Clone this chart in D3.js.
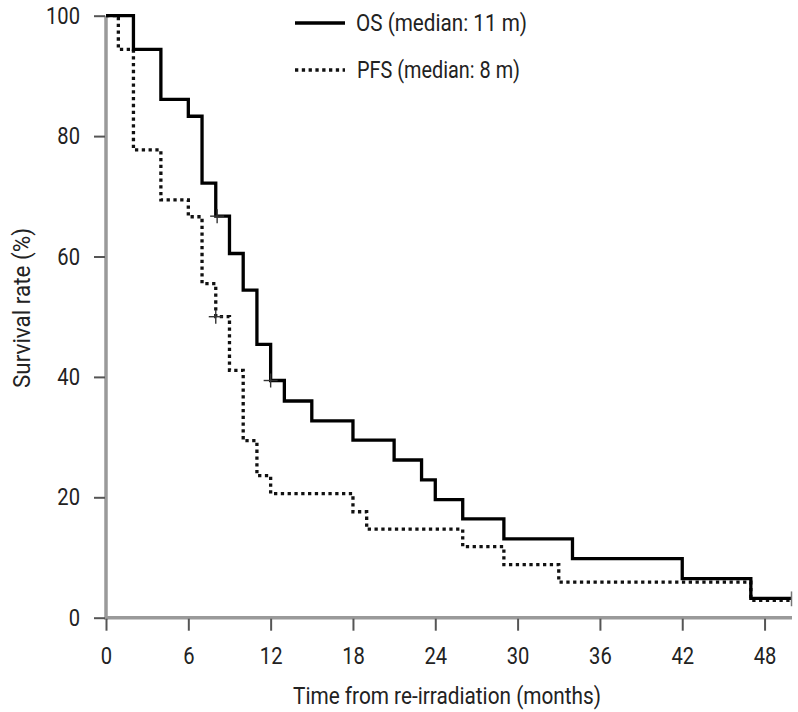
<!DOCTYPE html>
<html>
<head>
<meta charset="utf-8">
<script src="https://cdn.jsdelivr.net/npm/d3@7"></script>
<style>
  html, body { margin: 0; padding: 0; background: #fff; }
  svg { display: block; }
  text { font-family: "Roboto", "Liberation Sans Narrow", "DejaVu Sans Condensed", sans-serif; fill: #222; }
</style>
</head>
<body>
<svg id="chart" width="798" height="712"></svg>
<script>
// ---- data ----
const osTimes  = [0, 2, 4, 6, 7, 8, 9, 10, 11, 12, 13, 15, 18, 21, 23, 24, 26, 29, 34, 42, 47, 50];
const osValues = [100, 94.4, 86.1, 83.3, 72.2, 66.7, 60.5, 54.4, 45.4, 39.4, 36.0, 32.7, 29.5, 26.2, 22.9, 19.6, 16.4, 13.1, 9.8, 6.5, 3.2, 3.2];
const pfsTimes  = [0, 0.9, 2, 4, 6, 7, 8, 9, 10, 11, 12, 18, 19, 26, 29, 33, 47, 50];
const pfsValues = [100, 94.4, 77.7, 69.4, 66.6, 55.5, 50.0, 41.1, 29.4, 23.6, 20.6, 17.6, 14.7, 11.8, 8.8, 5.9, 2.9, 2.9];
const osCensorT = [8.1, 12];
const osCensorV = [66.7, 39.4];
const pfsCensorT = [8];
const pfsCensorV = [50];
const xTicks = [0, 6, 12, 18, 24, 30, 36, 42, 48];
const yTicks = [0, 20, 40, 60, 80, 100];
const legendLabels = ["OS (median: 11 m)", "PFS (median: 8 m)"];
const xTitle = "Time from re-irradiation (months)";
const yTitle = "Survival rate (%)";

const svg = d3.select("#chart");
const x = d3.scaleLinear().domain([0, 50]).range([106, 792]);
const y = d3.scaleLinear().domain([0, 100]).range([617.7, 15.7]);

const axisColor = "#9a9a9a";
const tickColor = "#555";
const fs = 24;
const squeeze = 0.84;

// condense a text element horizontally (reference font is a condensed face)
function condense(sel, target) {
  sel.each(function () {
    const w = this.getComputedTextLength();
    const t = target != null ? target : w * squeeze;
    d3.select(this).attr("textLength", t).attr("lengthAdjust", "spacingAndGlyphs");
  });
}

// axes lines
svg.append("line").attr("x1", x(0)).attr("x2", x(0)).attr("y1", y(100)).attr("y2", y(0) + 2)
  .attr("stroke", axisColor).attr("stroke-width", 3.5);
svg.append("line").attr("x1", x(0)).attr("x2", x(50)).attr("y1", y(0)).attr("y2", y(0))
  .attr("stroke", axisColor).attr("stroke-width", 3.5);

// y axis
const yAxis = d3.axisLeft(y).tickValues(yTicks).tickSize(11).tickPadding(14).tickFormat(d3.format("d"));
const gy = svg.append("g").attr("transform", `translate(${x(0) - 1},0)`).call(yAxis);
gy.select(".domain").remove();
gy.selectAll(".tick line").attr("stroke", tickColor).attr("stroke-width", 2);
gy.selectAll(".tick text").attr("font-size", fs).attr("font-family", null).attr("fill", "#222").call(condense);

// x axis
const xAxis = d3.axisBottom(x).tickValues(xTicks).tickSize(12).tickPadding(16).tickFormat(d3.format("d"));
const gx = svg.append("g").attr("transform", `translate(0,${y(0) + 1})`).call(xAxis);
gx.select(".domain").remove();
gx.selectAll(".tick line").attr("stroke", tickColor).attr("stroke-width", 2);
gx.selectAll(".tick text").attr("font-size", fs).attr("font-family", null).attr("fill", "#222")
  .attr("y", 45).attr("dy", null).call(condense);

// titles
svg.append("text").attr("x", 447).attr("y", 704).attr("text-anchor", "middle")
  .attr("font-size", fs).text(xTitle).call(condense, 308);
svg.append("text").attr("transform", "translate(30,308) rotate(-90)").attr("text-anchor", "middle")
  .attr("font-size", fs).text(yTitle).call(condense, 160);

// curves
const line = d3.line().x(d => x(d[0])).y(d => y(d[1])).curve(d3.curveStepAfter);
const osData = osTimes.map((t, i) => [t, osValues[i]]);
const pfsData = pfsTimes.map((t, i) => [t, pfsValues[i]]);

svg.append("path").datum(pfsData).attr("d", line).attr("fill", "none")
  .attr("stroke", "#111").attr("stroke-width", 3.3).attr("stroke-dasharray", "3.3,3.5");
svg.append("path").datum(osData).attr("d", line).attr("fill", "none")
  .attr("stroke", "#000").attr("stroke-width", 3.3);

// censor marks
function cross(t, v) {
  const cx = x(t), cy = y(v);
  svg.append("line").attr("x1", cx - 7).attr("x2", cx + 7).attr("y1", cy).attr("y2", cy)
    .attr("stroke", "#333").attr("stroke-width", 1.4);
  svg.append("line").attr("x1", cx).attr("x2", cx).attr("y1", cy - 7).attr("y2", cy + 7)
    .attr("stroke", "#333").attr("stroke-width", 1.4);
}
osCensorT.forEach((t, i) => cross(t, osCensorV[i]));
pfsCensorT.forEach((t, i) => cross(t, pfsCensorV[i]));
// end censor tick
svg.append("line").attr("x1", x(50) - 0.5).attr("x2", x(50) - 0.5)
  .attr("y1", y(osValues[osValues.length - 1]) - 7).attr("y2", y(pfsValues[pfsValues.length - 1]) + 6)
  .attr("stroke", "#777").attr("stroke-width", 1.5);

// legend
const lg = svg.append("g");
lg.append("line").attr("x1", 295).attr("x2", 345).attr("y1", 23).attr("y2", 23)
  .attr("stroke", "#000").attr("stroke-width", 3.3);
lg.append("line").attr("x1", 295).attr("x2", 345).attr("y1", 70).attr("y2", 70)
  .attr("stroke", "#111").attr("stroke-width", 3.3).attr("stroke-dasharray", "3.3,3.5");
lg.append("text").attr("x", 356).attr("y", 31).attr("font-size", fs).text(legendLabels[0]).call(condense, 171);
lg.append("text").attr("x", 357).attr("y", 78).attr("font-size", fs).text(legendLabels[1]).call(condense, 163);
</script>
</body>
</html>
